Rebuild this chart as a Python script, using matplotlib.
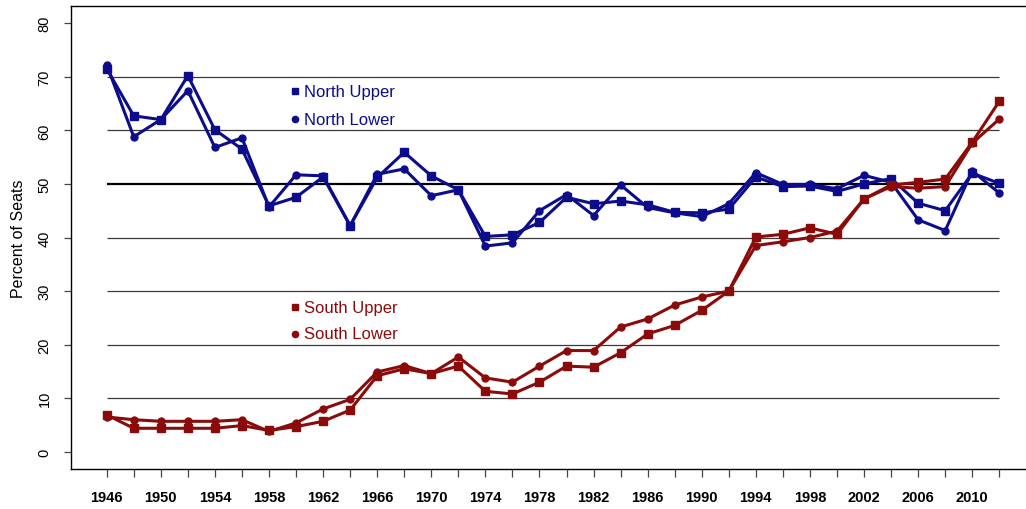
import matplotlib
matplotlib.use("Agg")
import matplotlib.pyplot as plt

# ---- data ----
years = list(range(1946, 2013, 2))

north_upper = [71.5, 62.7, 62.0, 70.2, 60.1, 56.5, 45.9, 47.5, 51.3, 42.2,
               51.2, 55.9, 51.5, 48.9, 40.2, 40.5, 42.8, 47.5, 46.3, 46.8,
               46.1, 44.7, 44.6, 45.3, 51.3, 49.5, 49.6, 48.6, 50.0, 51.0,
               46.4, 45.0, 52.0, 50.1]
north_lower = [72.2, 58.8, 62.0, 67.4, 56.8, 58.6, 45.7, 51.7, 51.5, 42.2,
               51.8, 52.8, 47.8, 48.9, 38.4, 39.0, 45.0, 48.0, 44.1, 49.8,
               45.6, 44.6, 43.9, 46.3, 52.1, 49.9, 49.9, 49.1, 51.6, 50.3,
               43.3, 41.3, 52.4, 48.3]
south_upper = [6.9, 4.4, 4.4, 4.4, 4.4, 4.9, 4.0, 4.7, 5.7, 7.8,
               14.2, 15.5, 14.6, 16.0, 11.3, 10.8, 13.0, 16.0, 15.8, 18.5,
               22.0, 23.6, 26.4, 30.0, 40.1, 40.6, 41.8, 40.6, 47.2, 49.8,
               50.3, 50.9, 57.8, 65.4]
south_lower = [6.5, 6.0, 5.7, 5.7, 5.7, 6.0, 3.8, 5.4, 8.0, 9.8,
               14.9, 16.1, 14.6, 17.7, 13.8, 13.0, 16.0, 18.9, 18.9, 23.3,
               24.8, 27.4, 28.9, 30.0, 38.5, 39.2, 40.0, 41.2, 47.2, 49.5,
               49.2, 49.5, 57.6, 62.1]

series_labels = ["North Upper", "North Lower", "South Upper", "South Lower"]
grid_levels = [10, 20, 30, 40, 50, 60, 70]
y_ticks = [0, 10, 20, 30, 40, 50, 60, 70, 80]

BLUE = "#0c0c8c"
RED = "#8b0b0b"

plt.rcParams['font.family'] = ['Liberation Sans', 'DejaVu Sans']

fig = plt.figure(figsize=(10.26, 5.10), dpi=100)
# axes box runs off the right edge, as in the reference
ax = fig.add_axes([71 / 1026, 40 / 510, 964 / 1026, 463 / 510])

# horizontal reference lines between first and last year
for lv in grid_levels:
    if lv == 50:
        ax.hlines(lv, years[0], years[-1], color="black", lw=1.6, zorder=1)
    else:
        ax.hlines(lv, years[0], years[-1], color="#3a3a3a", lw=0.9, zorder=1)

styles = [(north_upper, BLUE, "s", 5.5), (north_lower, BLUE, "o", 5),
          (south_upper, RED, "s", 5.5), (south_lower, RED, "o", 5)]
for vals, col, mk, ms in styles:
    ax.plot(years, vals, color=col, lw=2.2, marker=mk, ms=ms, zorder=3)

# legend drawn as text next to marker glyphs
legend_pos = [67.3, 62.1, 27.0, 22.0]
for (vals, col, mk, ms), lab, yy in zip(styles, series_labels, legend_pos):
    ax.plot([1959.9], [yy], marker=mk, color=col, ms=ms - 0.5, ls="none")
    ax.text(1960.6, yy, lab, color=col, fontsize=12, va="center", ha="left")

ax.set_xlim(1943.36, 2014.64)
ax.set_ylim(-3.2, 83.2)

ax.set_xticks(years)
ax.set_xticklabels([str(y) if (y - 1946) % 4 == 0 else "" for y in years],
                   fontweight="bold", fontsize=10.5)
ax.set_yticks(y_ticks)
ax.set_yticklabels([str(v) for v in y_ticks], rotation=90, va="center",
                   fontsize=10.5)
ax.tick_params(axis="x", length=6, width=0.9, color="#444444", pad=9)
ax.tick_params(axis="y", length=5, width=0.9, color="#444444", pad=9)

ax.set_ylabel("Percent of Seats", fontsize=11.5, labelpad=8)

for sp in ax.spines.values():
    sp.set_linewidth(1.0)
    sp.set_color("black")

fig.savefig("out.png", dpi=100)
